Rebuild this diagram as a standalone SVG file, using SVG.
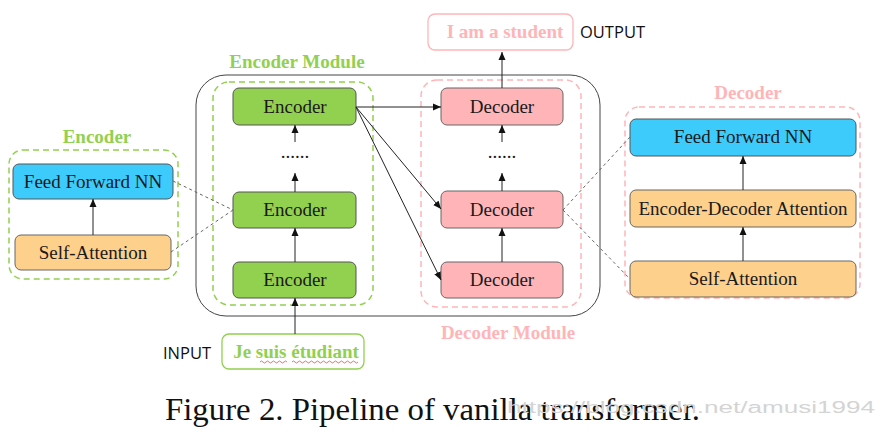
<svg xmlns="http://www.w3.org/2000/svg" width="882" height="434" viewBox="0 0 882 434">
<style>
.t{font-family:"Liberation Serif","Times New Roman",serif;font-size:19px;fill:#1a1a1a;text-anchor:middle}
.tb{font-family:"Liberation Serif","Times New Roman",serif;font-size:19px;font-weight:bold;text-anchor:middle}
.s{font-family:"Open Sans","Liberation Sans",sans-serif;font-size:16.5px;fill:#111}
.enc{fill:#92d050;stroke:#555;stroke-width:1}
.dec{fill:#ffb5b8;stroke:#666;stroke-width:1}
.ffn{fill:#3dcbfc;stroke:#555;stroke-width:1}
.att{fill:#fdd08c;stroke:#666;stroke-width:1}
.gd{fill:none;stroke:#92d050;stroke-width:1.5;stroke-dasharray:6 4}
.pd{fill:none;stroke:#ffb5b8;stroke-width:1.5;stroke-dasharray:6 4}
.ln{stroke:#222;stroke-width:1;fill:none}
.dl{stroke:#666;stroke-width:1;fill:none;stroke-dasharray:3 3}
</style>
<defs>
<marker id="ah" viewBox="0 0 8 8" refX="8" refY="4" markerWidth="8" markerHeight="8" markerUnits="userSpaceOnUse" orient="auto">
<path d="M0,0.5 L8,4 L0,7.5 z" fill="#111"/>
</marker>
</defs>
<rect width="882" height="434" fill="#fff"/>

<!-- outer container -->
<rect x="196" y="75" width="404" height="241" rx="30" fill="none" stroke="#444" stroke-width="1"/>

<!-- left encoder detail -->
<g id="enc-detail">
<text class="tb" x="97" y="143" fill="#92d050">Encoder</text>
<rect class="gd" x="9" y="150" width="169" height="129" rx="14"/>
<g id="enc-ffn"><rect class="ffn" x="13" y="164" width="160" height="35" rx="6"/><text class="t" x="93" y="188">Feed Forward NN</text></g>
<g id="enc-sa"><rect class="att" x="15" y="235" width="156" height="35" rx="6"/><text class="t" x="93" y="259">Self-Attention</text></g>
</g>

<!-- encoder module -->
<g id="encoder-module">
<text class="tb" x="297" y="68" fill="#92d050">Encoder Module</text>
<rect class="gd" x="213" y="82" width="160" height="223" rx="16"/>
<g id="enc1"><rect class="enc" x="233" y="88" width="123" height="37" rx="6"/><text class="t" x="295" y="113">Encoder</text></g>
<g id="enc2"><rect class="enc" x="233" y="192" width="123" height="36" rx="6"/><text class="t" x="295" y="216">Encoder</text></g>
<g id="enc3"><rect class="enc" x="233" y="262" width="123" height="36" rx="6"/><text class="t" x="295" y="286">Encoder</text></g>
<text class="t" x="295" y="158">......</text>
</g>

<!-- decoder module -->
<g id="decoder-module">
<text class="tb" x="508" y="339" fill="#ffb5b8">Decoder Module</text>
<rect class="pd" x="421" y="80" width="160" height="227" rx="16"/>
<g id="dec1"><rect class="dec" x="441" y="88" width="122" height="37" rx="6"/><text class="t" x="502" y="113">Decoder</text></g>
<g id="dec2"><rect class="dec" x="441" y="191" width="122" height="37" rx="6"/><text class="t" x="502" y="216">Decoder</text></g>
<g id="dec3"><rect class="dec" x="441" y="262" width="122" height="36" rx="6"/><text class="t" x="502" y="286">Decoder</text></g>
<text class="t" x="502" y="158">......</text>
</g>

<!-- right decoder detail -->
<g id="dec-detail">
<text class="tb" x="748" y="99" fill="#ffb5b8">Decoder</text>
<rect class="pd" x="625" y="107" width="235" height="191" rx="14"/>
<g id="dec-ffn"><rect class="ffn" x="630" y="119" width="226" height="37" rx="6"/><text class="t" x="743" y="143">Feed Forward NN</text></g>
<g id="dec-eda"><rect class="att" x="630" y="190" width="226" height="37" rx="6"/><text class="t" x="743" y="215">Encoder-Decoder Attention</text></g>
<g id="dec-sa"><rect class="att" x="630" y="261" width="226" height="36" rx="6"/><text class="t" x="743" y="285">Self-Attention</text></g>
</g>

<!-- output -->
<g id="output">
<rect x="428" y="14" width="145" height="36" rx="7" fill="#fff" stroke="#ffb5b8" stroke-width="1.3"/>
<text class="tb" x="505" y="38" fill="#ffb5b8">I am a student</text>
<text class="s" x="580" y="38">OUTPUT</text>
</g>

<!-- input -->
<g id="input">
<rect x="222" y="334" width="142" height="35" rx="7" fill="#fff" stroke="#92d050" stroke-width="1.3"/>
<text class="tb" x="296" y="358" fill="#92d050">Je suis étudiant</text>
<path d="M260,362 q1.5,-2 3,0 t3,0 t3,0 t3,0 t3,0 t3,0 t3,0 t3,0 t3,0 M292,362 q1.5,-2 3,0 t3,0 t3,0 t3,0 t3,0 t3,0 t3,0 t3,0 t3,0 t3,0 t3,0 t3,0 t3,0 t3,0 t3,0 t3,0 t3,0 t3,0 t3,0 t3,0 t3,0 t3,0" fill="none" stroke="#e05050" stroke-width="0.8"/>
<text class="s" x="163" y="359">INPUT</text>
</g>

<!-- connectors -->
<g id="connectors">
<line class="ln" x1="295" y1="334" x2="295" y2="298" marker-end="url(#ah)"/>
<line class="ln" x1="295" y1="262" x2="295" y2="228" marker-end="url(#ah)"/>
<line class="ln" x1="295" y1="192" x2="295" y2="173" marker-end="url(#ah)"/>
<line class="ln" x1="295" y1="142" x2="295" y2="125" marker-end="url(#ah)"/>
<line class="ln" x1="502" y1="262" x2="502" y2="228" marker-end="url(#ah)"/>
<line class="ln" x1="502" y1="191" x2="502" y2="173" marker-end="url(#ah)"/>
<line class="ln" x1="502" y1="142" x2="502" y2="125" marker-end="url(#ah)"/>
<line class="ln" x1="502" y1="88" x2="502" y2="52" marker-end="url(#ah)"/>
<line class="ln" x1="356" y1="107" x2="441" y2="107" marker-end="url(#ah)"/>
<line class="ln" x1="356" y1="107" x2="441" y2="209" marker-end="url(#ah)"/>
<line class="ln" x1="356" y1="107" x2="441" y2="280" marker-end="url(#ah)"/>
<line class="ln" x1="93" y1="235" x2="93" y2="199" marker-end="url(#ah)"/>
<line class="ln" x1="743" y1="190" x2="743" y2="156" marker-end="url(#ah)"/>
<line class="ln" x1="743" y1="261" x2="743" y2="227" marker-end="url(#ah)"/>
<line class="dl" x1="173" y1="181" x2="233" y2="210"/>
<line class="dl" x1="171" y1="252" x2="233" y2="210"/>
<line class="dl" x1="563" y1="210" x2="630" y2="137"/>
<line class="dl" x1="563" y1="210" x2="630" y2="279"/>
</g>

<!-- caption -->
<text x="165" y="420" font-family="'Liberation Serif','Times New Roman',serif" font-size="32" fill="#111" textLength="535" lengthAdjust="spacingAndGlyphs">Figure 2. Pipeline of vanilla transformer.</text>
<text x="507" y="413" font-family="'Liberation Sans',Arial,sans-serif" font-size="16" fill="#d4d4d4" textLength="368" lengthAdjust="spacingAndGlyphs">https://blog.csdn.net/amusi1994</text>
</svg>
